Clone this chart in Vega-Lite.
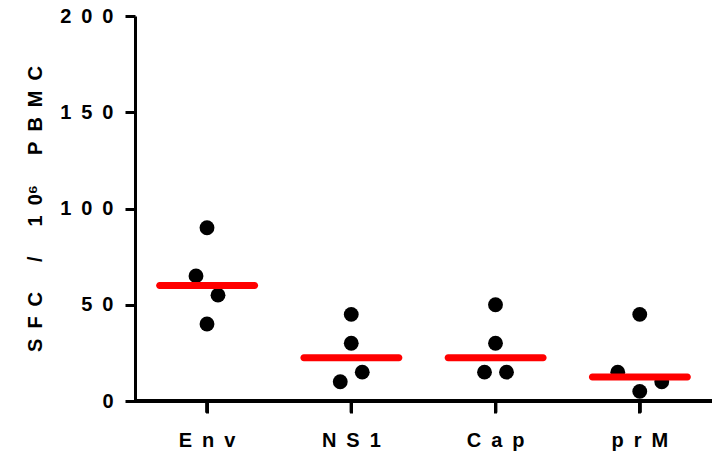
{
  "$schema": "https://vega.github.io/schema/vega-lite/v6.json",
  "width": 577,
  "height": 385,
  "autosize": {"type": "none"},
  "padding": {"left": 135, "top": 16, "right": 0, "bottom": 54},
  "background": "white",
  "config": {
    "view": {"stroke": null},
    "font": "Liberation Sans",
    "axis": {
      "domainColor": "black",
      "domainWidth": 3,
      "tickColor": "black",
      "tickWidth": 3,
      "tickSize": 10,
      "grid": false,
      "labelColor": "black",
      "labelFontSize": 20,
      "labelFontWeight": "bold",
      "titleColor": "black",
      "titleFontSize": 20,
      "titleFontWeight": "bold"
    }
  },
  "data": {
    "values": [
      {"antigen": "Env", "sfc": 90, "col": 0},
      {"antigen": "Env", "sfc": 65, "col": -1},
      {"antigen": "Env", "sfc": 55, "col": 1},
      {"antigen": "Env", "sfc": 40, "col": 0},
      {"antigen": "NS1", "sfc": 45, "col": 0},
      {"antigen": "NS1", "sfc": 30, "col": 0},
      {"antigen": "NS1", "sfc": 15, "col": 1},
      {"antigen": "NS1", "sfc": 10, "col": -1},
      {"antigen": "Cap", "sfc": 50, "col": 0},
      {"antigen": "Cap", "sfc": 30, "col": 0},
      {"antigen": "Cap", "sfc": 15, "col": -1},
      {"antigen": "Cap", "sfc": 15, "col": 1},
      {"antigen": "prM", "sfc": 45, "col": 0},
      {"antigen": "prM", "sfc": 15, "col": -2},
      {"antigen": "prM", "sfc": 10, "col": 2},
      {"antigen": "prM", "sfc": 5, "col": 0}
    ]
  },
  "encoding": {
    "x": {
      "field": "antigen",
      "type": "nominal",
      "sort": ["Env", "NS1", "Cap", "prM"],
      "scale": {"type": "band", "paddingInner": 0, "paddingOuter": 0},
      "axis": {
        "title": null,
        "labelAngle": 0,
        "labelPadding": 17,
        "tickSize": 12,
        "domain": true,
        "ticks": true,
        "labelExpr": "join(split(datum.label, ''), '\u2002')"
      }
    },
    "y": {
      "field": "sfc",
      "type": "quantitative",
      "scale": {"domain": [0, 200], "nice": false, "zero": true},
      "axis": {
        "title": "S\u2002F\u2002C\u2003\u2002/\u2003\u20021\u20020⁶\u2003\u2002P\u2002B\u2002M\u2002C",
        "values": [0, 50, 100, 150, 200],
        "labelPadding": 12,
        "titlePadding": 14,
        "labelExpr": "join(split(datum.label, ''), '\u2002')"
      }
    }
  },
  "layer": [
    {
      "mark": {"type": "rule", "color": "black", "strokeWidth": 3},
      "encoding": {"x": null, "y": {"datum": 0, "type": "quantitative"}}
    },
    {
      "mark": {"type": "rule", "color": "black", "strokeWidth": 3},
      "encoding": {
        "y": {"datum": 0, "type": "quantitative"},
        "y2": {"datum": -6}
      }
    },
    {
      "mark": {"type": "point", "filled": true, "size": 220, "color": "black", "opacity": 1, "strokeWidth": 0},
      "encoding": {
        "xOffset": {
          "field": "col",
          "type": "quantitative",
          "scale": {"domain": [-2, 2], "range": [50, 94]}
        }
      }
    },
    {
      "mark": {"type": "tick", "color": "#ff0000", "thickness": 7, "size": 102, "cornerRadius": 3.5, "opacity": 1},
      "encoding": {
        "y": {"field": "sfc", "type": "quantitative", "aggregate": "median"}
      }
    }
  ]
}
